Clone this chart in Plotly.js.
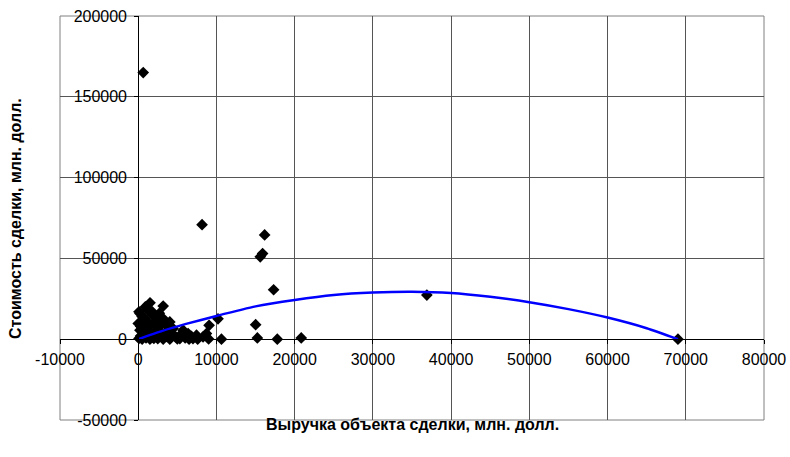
<!DOCTYPE html>
<html><head><meta charset="utf-8">
<script src="https://cdn.plot.ly/plotly-3.0.1.min.js"></script>
<style>html,body{margin:0;padding:0;background:#fff}</style>
</head><body><div id="chart" style="width:790px;height:457px"></div>
<script>
// Deals: revenue of target (x) vs deal value (y), mln USD
const revenueX = [640, 8160, 16160, 15900, 15600, 17310, 15010, 15230, 17780, 20840, 36900, 69000,
  10200, 10640, 9060, 8720,
  1510, 3190, 220, 0, 850, 2130, 3190, 2980, 4040, 4460, 5740, 6380, 7450, 8290, 5320, 4040, 3190, 2350, 1730,
  220, 300, 100, 500, 1000, 1500, 2000, 2600, 3600, 4800, 6000, 7000, 6800, 5500, 1200, 900, 1800, 500, 1100,
  1600, 2500, 300, 800, 1400, 2000, 2800, 3500, 600, 1200, 1800, 2500, 3000, 3800, 2200, 1800, 400, 100, 2700,
  4200, 5000, 6500, 7600, 9000];
const dealValueY = [165000, 70900, 64500, 53000, 51000, 30600, 9000, 800, 0, 800, 27300, 0,
  12600, 0, 8600, 3500,
  22500, 20500, 15900, 9700, 12800, 13800, 12800, 9700, 10700, 6600, 5600, 3500, 2500, 1400, 400, 0, 0, 1400, 3000,
  5600, 2000, 500, 0, 800, 0, 500, 2500, 1800, 1500, 800, 300, 1800, 3200, 18000, 20000, 17000, 14000, 11000,
  9000, 7000, 8000, 6000, 5000, 4000, 5000, 4000, 3000, 2000, 1200, 300, 3000, 7500, 11000, 15000, 11000, 17000, 16000,
  2800, 200, 0, 0, 200];

// Trend line
const trendX = [0, 3000, 6000, 10000, 15000, 20000, 25000, 30000, 35000, 40000, 45000, 50000, 55000, 60000, 65000, 69000];
const trendY = [0, 5000, 9300, 14400, 20300, 24300, 27400, 28900, 29400, 28600, 26200, 22900, 18600, 13400, 6800, 0];

const xTickVals = [-10000, 0, 10000, 20000, 30000, 40000, 50000, 60000, 70000, 80000];
const xTickText = ["-10000", "0", "10000", "20000", "30000", "40000", "50000", "60000", "70000", "80000"];
const yTickVals = [-50000, 0, 50000, 100000, 150000, 200000];
const yTickText = ["-50000", "0", "50000", "100000", "150000", "200000"];

const xTitle = "Выручка объекта сделки, млн. долл.";
const yTitle = "Стоимость сделки, млн. долл.";

const xRange = [-10000, 80000];
const yRange = [-50000, 200000];

const FONT = "Liberation Sans, Arial, sans-serif";
const gridCol = "#555555";
const TICK_SIZE = 16;
const TITLE_SIZE = 16;

const traces = [
  {x: revenueX, y: dealValueY, type: "scatter", mode: "markers",
   marker: {symbol: "diamond", size: 9, color: "#000000"}, hoverinfo: "x+y"},
  {x: trendX, y: trendY, type: "scatter", mode: "lines",
   line: {color: "#0000FF", width: 2.5, shape: "spline", smoothing: 0.6}, hoverinfo: "skip"}
];

const layout = {
  width: 790, height: 457,
  margin: {l: 60, r: 26, t: 16, b: 37},
  paper_bgcolor: "#ffffff", plot_bgcolor: "#ffffff",
  showlegend: false,
  font: {family: FONT, size: TICK_SIZE, color: "#000000"},
  xaxis: {range: xRange, tickvals: xTickVals, ticktext: xTickText,
    anchor: "free", position: (0 - yRange[0]) / (yRange[1] - yRange[0]),
    showgrid: true, gridcolor: gridCol, gridwidth: 1, zeroline: false,
    showline: true, linecolor: "#000000", linewidth: 1,
    ticks: "outside", ticklen: 4, tickcolor: "#000000", ticklabelstandoff: 2,
    tickfont: {family: FONT, size: TICK_SIZE, color: "#000000"}},
  yaxis: {range: yRange, tickvals: yTickVals, ticktext: yTickText,
    anchor: "free", position: (0 - xRange[0]) / (xRange[1] - xRange[0]),
    showgrid: true, gridcolor: gridCol, gridwidth: 1, zeroline: false,
    showline: true, linecolor: "#000000", linewidth: 1,
    ticks: "outside", ticklen: 4, tickcolor: "#000000", ticklabelstandoff: 4,
    tickfont: {family: FONT, size: TICK_SIZE, color: "#000000"}},
  shapes: [{type: "rect", xref: "paper", yref: "paper", x0: 0, x1: 1, y0: 0, y1: 1,
    line: {color: "#808080", width: 1}, fillcolor: "rgba(0,0,0,0)", layer: "below"}],
  annotations: [
    {text: "<b>" + xTitle + "</b>", xref: "paper", yref: "paper", x: 0.5, y: -0.012,
     xanchor: "center", yanchor: "middle", showarrow: false,
     font: {family: FONT, size: TITLE_SIZE, color: "#000000"}},
    {text: "<b>" + yTitle + "</b>", xref: "paper", yref: "paper", x: -0.064, y: 0.5,
     xanchor: "center", yanchor: "middle", textangle: -90, showarrow: false,
     font: {family: FONT, size: TITLE_SIZE, color: "#000000"}}
  ]
};

Plotly.newPlot("chart", traces, layout, {displayModeBar: false, staticPlot: true});
</script>
</body></html>
